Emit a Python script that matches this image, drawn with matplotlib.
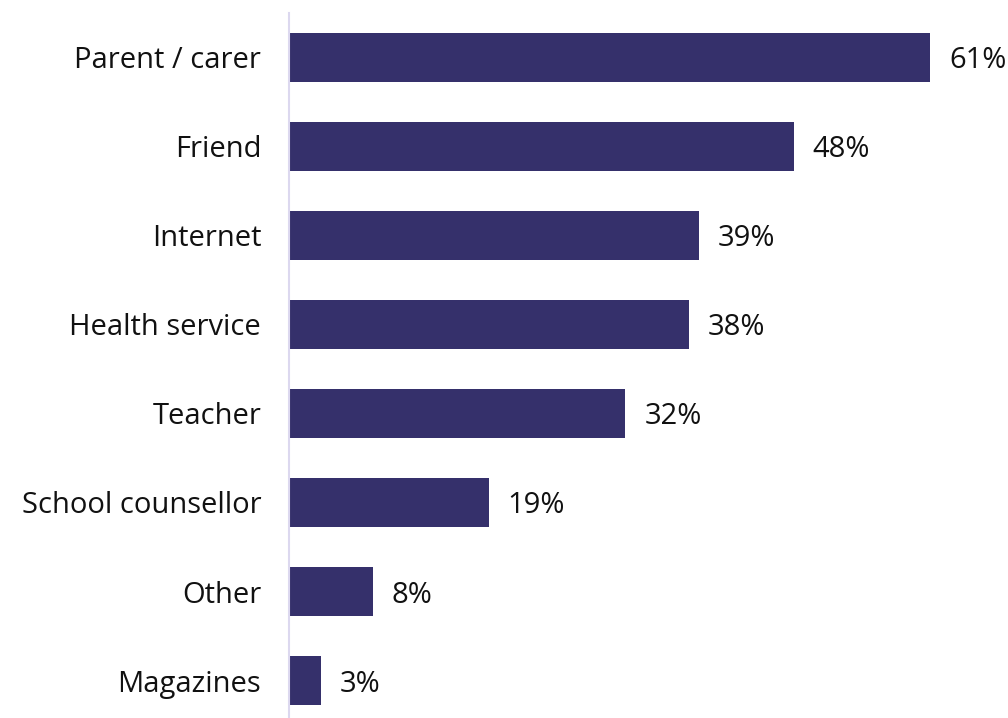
import matplotlib.pyplot as plt

kategorie = ['Parent / carer', 'Friend', 'Internet', 'Health service',
             'Teacher', 'School counsellor', 'Other', 'Magazines']
wartosci = [61, 48, 39, 38, 32, 19, 8, 3]

kolor_slupka = '#35306b'
kolor_osi = '#dcd8ef'

plt.rcParams['font.family'] = ['Open Sans', 'DejaVu Sans']

fig = plt.figure(figsize=(10.08, 7.18), dpi=100)
ax = fig.add_axes([289 / 1008, 0, 715 / 1008, 705 / 718])

pozycje = list(range(len(kategorie)))
ax.barh(pozycje, wartosci, height=0.55, color=kolor_slupka)

for y, v in zip(pozycje, wartosci):
    ax.annotate(f'{v}%', (v, y), xytext=(13.5, 0), textcoords='offset points',
                va='center_baseline', ha='left', fontsize=21, color='#111111')

ax.set_xlim(0, 68)
ax.set_ylim(7.42, -0.494)
ax.set_yticks(pozycje)
ax.set_yticklabels(kategorie, fontsize=21, color='#111111', va='center_baseline')
ax.tick_params(axis='y', length=0, pad=20)
ax.set_xticks([])

for strona in ['top', 'right', 'bottom']:
    ax.spines[strona].set_visible(False)
ax.spines['left'].set_color(kolor_osi)
ax.spines['left'].set_linewidth(1.5)

fig.savefig('out.png', dpi=100)
